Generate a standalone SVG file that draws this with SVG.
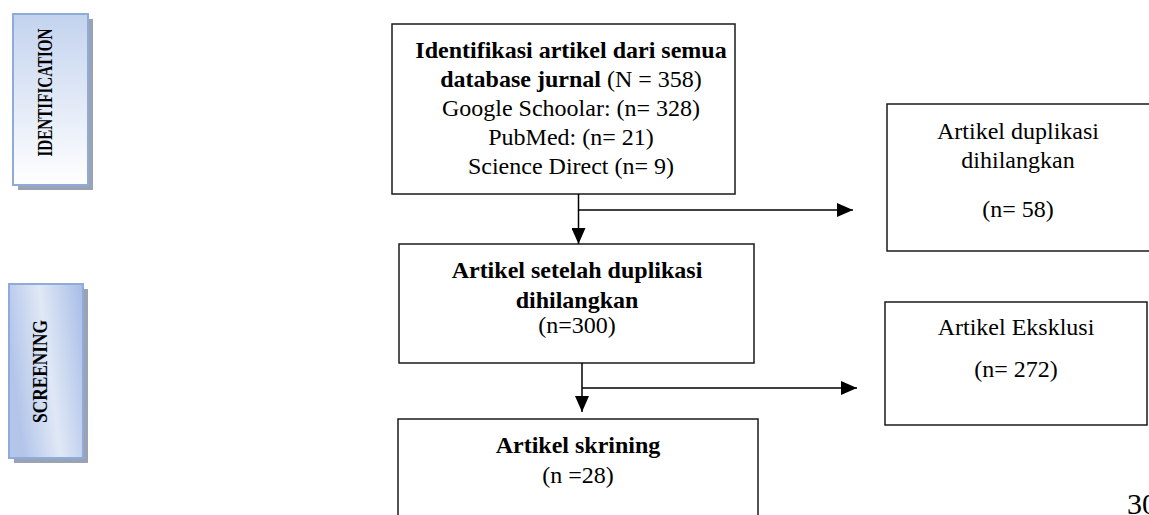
<svg xmlns="http://www.w3.org/2000/svg" width="1149" height="515" viewBox="0 0 1149 515">
<style>
.box{fill:#ffffff;stroke:#1a1a1a;stroke-width:1.5}
.t{font-family:"Liberation Serif","Times New Roman",serif;font-size:24px;fill:#000;text-anchor:middle}
.b{font-weight:bold}
.side{font-family:"Liberation Serif","Times New Roman",serif;font-size:20px;font-weight:bold;fill:#000;text-anchor:middle}
.shadow{fill:#9aa3b3}
.line{stroke:#000;stroke-width:1.5;fill:none}
</style>
<defs>
<linearGradient id="gId" x1="0" y1="0" x2="0" y2="1">
<stop offset="0" stop-color="#c3d3ee"/>
<stop offset="1" stop-color="#ffffff"/>
</linearGradient>
<linearGradient id="gSc" x1="0" y1="0.3" x2="1" y2="0">
<stop offset="0" stop-color="#b3c6ea"/>
<stop offset="0.45" stop-color="#e0e8f6"/>
<stop offset="1" stop-color="#a7bde6"/>
</linearGradient>
<marker id="ah" viewBox="0 0 16 14" refX="16" refY="7" markerWidth="16" markerHeight="14" markerUnits="userSpaceOnUse" orient="auto">
<path d="M0,0 L16,7 L0,14 Z" fill="#000"/>
</marker>
</defs>

<g id="label-identification">
<rect class="shadow" x="18" y="19" width="75" height="171"/>
<rect x="13" y="14" width="75" height="171" fill="url(#gId)" stroke="#8fabdc" stroke-width="2"/>
<text class="side" transform="translate(52,92.5) rotate(-90)" textLength="128" lengthAdjust="spacingAndGlyphs">IDENTIFICATION</text>
</g>

<g id="label-screening">
<rect class="shadow" x="14" y="289" width="74" height="174"/>
<rect x="9" y="284" width="74" height="174" fill="url(#gSc)" stroke="#8fabdc" stroke-width="2"/>
<text class="side" transform="translate(47,371.5) rotate(-90)" textLength="103" lengthAdjust="spacingAndGlyphs">SCREENING</text>
</g>

<g id="node-identifikasi">
<rect class="box" x="392" y="24" width="343" height="170"/>
<text class="t b" x="571" y="58">Identifikasi artikel dari semua</text>
<text class="t" x="571" y="87"><tspan class="b">database jurnal</tspan> (N = 358)</text>
<text class="t" x="571" y="116">Google Schoolar: (n= 328)</text>
<text class="t" x="571" y="145">PubMed: (n= 21)</text>
<text class="t" x="571" y="174">Science Direct (n= 9)</text>
</g>

<g id="node-duplikasi">
<rect class="box" x="887" y="104" width="270" height="147"/>
<text class="t" x="1018" y="139">Artikel duplikasi</text>
<text class="t" x="1018" y="168">dihilangkan</text>
<text class="t" x="1018" y="217">(n= 58)</text>
</g>

<g id="node-setelah">
<rect class="box" x="399" y="244" width="355" height="119"/>
<text class="t b" x="577" y="278">Artikel setelah duplikasi</text>
<text class="t b" x="577" y="308">dihilangkan</text>
<text class="t" x="577" y="333">(n=300)</text>
</g>

<g id="node-eksklusi">
<rect class="box" x="885" y="302" width="262" height="123"/>
<text class="t" x="1016" y="335">Artikel Eksklusi</text>
<text class="t" x="1016" y="377">(n= 272)</text>
</g>

<g id="node-skrining">
<rect class="box" x="398" y="419" width="360" height="110"/>
<text class="t b" x="578" y="453">Artikel skrining</text>
<text class="t" x="578" y="483">(n =28)</text>
</g>

<g id="connectors">
<line class="line" x1="578.5" y1="194" x2="578.5" y2="244" marker-end="url(#ah)"/>
<line class="line" x1="578.5" y1="210" x2="853" y2="210" marker-end="url(#ah)"/>
<line class="line" x1="582" y1="363" x2="582" y2="412" marker-end="url(#ah)"/>
<line class="line" x1="582" y1="388" x2="857" y2="388" marker-end="url(#ah)"/>
</g>

<text class="t" x="1127" y="514" style="font-size:30px;text-anchor:start">30</text>
</svg>
